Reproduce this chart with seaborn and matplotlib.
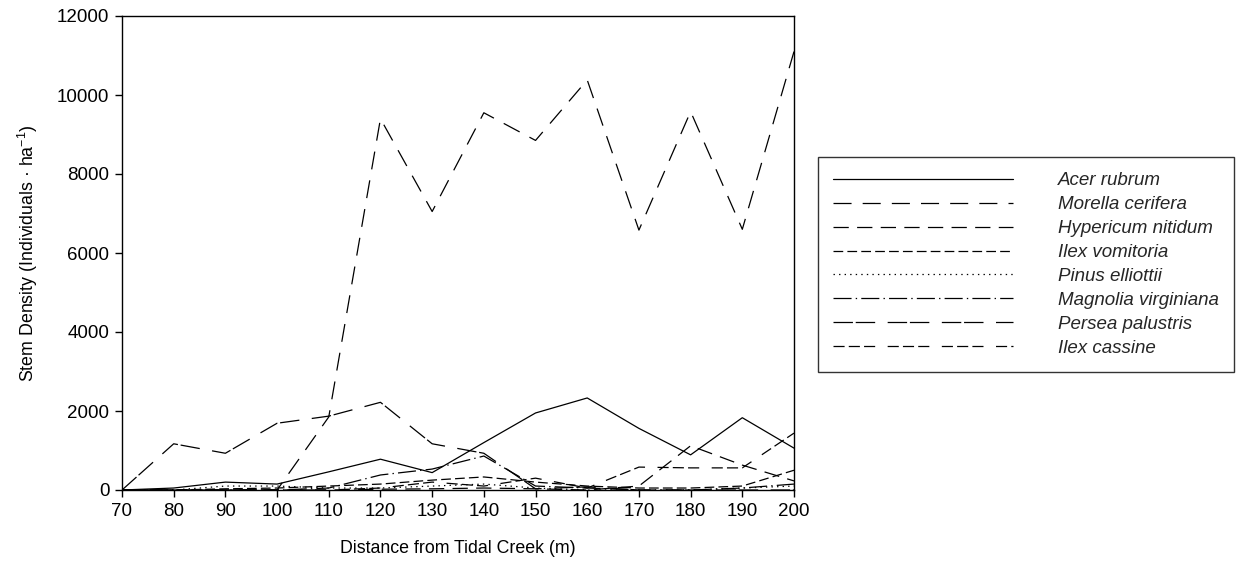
import numpy as np
import pandas as pd
import matplotlib
matplotlib.use("Agg")
import matplotlib.pyplot as plt
import seaborn as sns

distance = [70, 80, 90, 100, 110, 120, 130, 140, 150, 160, 170, 180, 190, 200]

acer_rubrum = [0, 50, 200, 150, 460, 780, 440, 1200, 1950, 2330, 1560, 890, 1830, 1060]
morella_cerifera = [0, 0, 0, 0, 1850, 9400, 7050, 9550, 8850, 10380, 6580, 9580, 6600, 11100]
hypericum_nitidum = [0, 0, 0, 0, 0, 20, 30, 50, 30, 0, 100, 1120, 630, 230]
ilex_vomitoria = [0, 0, 30, 50, 100, 150, 250, 330, 200, 100, 50, 50, 100, 500]
pinus_elliottii = [0, 0, 100, 100, 50, 50, 100, 150, 50, 0, 0, 0, 50, 100]
magnolia_virginiana = [0, 0, 0, 0, 50, 380, 530, 860, 100, 50, 0, 0, 50, 150]
persea_palustris = [0, 1170, 930, 1690, 1870, 2220, 1170, 930, 30, 80, 0, 0, 0, 0]
ilex_cassine = [0, 0, 0, 0, 0, 50, 200, 100, 300, 50, 580, 560, 560, 1440]

species = ["Acer rubrum", "Morella cerifera", "Hypericum nitidum", "Ilex vomitoria",
           "Pinus elliottii", "Magnolia virginiana", "Persea palustris", "Ilex cassine"]
values = [acer_rubrum, morella_cerifera, hypericum_nitidum, ilex_vomitoria,
          pinus_elliottii, magnolia_virginiana, persea_palustris, ilex_cassine]

dash_styles = [None, (13, 8), (11, 6), (7, 3), (1, 3), (13, 3, 1, 3),
               (14, 2, 14, 9), (8, 3, 8, 3, 8, 9)]

sns.set_theme(style="white")
plt.rcParams['font.family'] = ['Liberation Sans', 'DejaVu Sans']
plt.rcParams['lines.scale_dashes'] = False
plt.rcParams['mathtext.fontset'] = 'custom'
plt.rcParams['mathtext.rm'] = 'Liberation Sans'

fig = plt.figure(figsize=(12.41, 5.74), dpi=100)
ax = fig.add_axes([122 / 1241, 1 - 490 / 574, (794 - 122) / 1241, (490 - 16) / 574])

for name, vals, ds in zip(species, values, dash_styles):
    df = pd.DataFrame({"distance": distance, "density": vals})
    sns.lineplot(data=df, x="distance", y="density", ax=ax, color="black",
                 linewidth=0.9, label=name)
    line = ax.lines[-1]
    if ds is not None:
        line.set_dashes(ds)

ax.set_xlim(70, 200)
ax.set_ylim(0, 12000)
ax.set_xticks(range(70, 201, 10))
ax.set_yticks(range(0, 12001, 2000))
ax.tick_params(axis="both", which="major", direction="out", length=5, width=1,
               color="black", labelsize=13.5, pad=4, bottom=True, left=True,
               top=False, right=False, labelcolor="black")
for s in ax.spines.values():
    s.set_visible(True)
    s.set_color("black")
    s.set_linewidth(1)
ax.set_facecolor("white")

ax.set_xlabel("Distance from Tidal Creek (m)", fontsize=12.8, labelpad=15, color="black")
ax.set_ylabel("Stem Density (Individuals · ha$^{-1}$)", fontsize=12.8, labelpad=12, color="black")

handles, labels = ax.get_legend_handles_labels()
leg = ax.legend(handles, labels, loc="center left",
                bbox_to_anchor=(818 / 1241, 1 - 264.5 / 574),
                bbox_transform=fig.transFigure,
                frameon=True, fancybox=False, edgecolor="black",
                fontsize=13.5, handlelength=9.6, handletextpad=2.4,
                labelspacing=0.36, borderpad=0.8, borderaxespad=0)
leg.get_frame().set_linewidth(1)
for t in leg.get_texts():
    t.set_fontstyle("italic")

fig.savefig("out.png", dpi=100, facecolor="white")
